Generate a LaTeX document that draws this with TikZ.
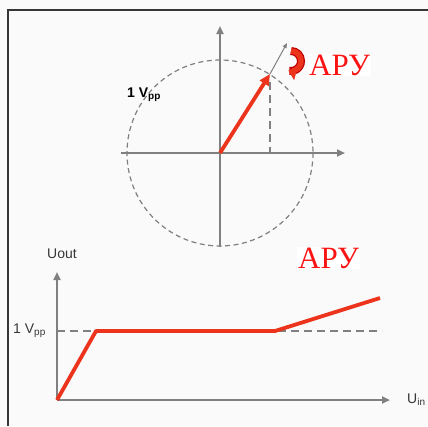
\documentclass[tikz,border=0pt]{standalone}
\usepackage{fontspec}
\setmainfont{Liberation Serif}
\setsansfont{Liberation Sans}
\usetikzlibrary{arrows.meta}
\definecolor{figG}{RGB}{128,128,128}
\definecolor{figR}{RGB}{236,52,28}
\definecolor{figT}{RGB}{250,20,20}
\definecolor{figD}{RGB}{55,55,55}
\newcommand{\lowpp}[1]{\raisebox{-0.4ex}{\fontsize{10}{10}\selectfont #1}}

\begin{document}
\begin{tikzpicture}[x=1pt,y=-1pt,>={Triangle[length=8pt,width=7pt]},
 axis/.style={figG,line width=2.6pt,->},
 guide/.style={figG,line width=1.2pt,dash pattern=on 5pt off 3.5pt},
 longguide/.style={figG,line width=1.1pt,dash pattern=on 8pt off 5pt},
 curve/.style={figR,line width=3.8pt,line join=round},
 lbl/.style={font=\sffamily\fontsize{14}{14}\selectfont,text=figD,inner sep=0pt,anchor=base west},
 agc/.style={font=\fontsize{31}{31}\selectfont,text=figT,inner sep=1pt,anchor=base west,fill=white}]
\useasboundingbox[fill=gray!4] (0,0) rectangle (428,426);
\draw[figD,line width=1.4pt] (428,10)--(8,10)--(8,426);
% phasor with AGC
\coordinate (O) at (220,153);
\coordinate (P) at (270,74); \coordinate (Q) at (287,43);
\coordinate (PB) at (270,153);
\node[agc] (agcA) at (308,75) {АРУ};
\draw[guide] (O) circle (93);
\draw[axis] (220,247) coordinate (YA0)--(220,26) coordinate (YA1);
\draw[axis] (121,153) coordinate (XA0)--(345,153) coordinate (XA1);
\draw[longguide] (270,82) coordinate (PT)--(PB);
\draw[figG,line width=1pt,-{Triangle[length=5pt,width=4pt]}] (P)--(Q);
\draw[curve,-{Triangle[length=11pt,width=10pt]}] (O)--(P);
\draw[red!75!black,line width=8pt] (291,51) arc[start angle=-90,end angle=100,radius=10];
\draw[figR,line width=5.5pt,-{Triangle[length=8pt,width=15pt]}] (291,51) arc[start angle=-90,end angle=105,radius=10];
\node[lbl,text=black,font=\sffamily\bfseries\fontsize{14}{14}\selectfont] (vppA) at (127,97) {1 V\lowpp{pp}};
% transfer curve
\coordinate (O2) at (57,400);
\coordinate (K1) at (96,331); \coordinate (K2) at (275,331); \coordinate (K3) at (380,298);
\draw[longguide] (57,331) coordinate (D1)--(382,331) coordinate (D2);
\draw[axis] (O2)--(57,272) coordinate (Y2);
\draw[axis] (O2)--(390,400) coordinate (X2);
\draw[curve] (O2)--(K1)--(K2)--(K3);
\node[lbl] (uout) at (47,258) {Uout};
\node[lbl] (vppB) at (13,333) {1 V\lowpp{pp}};
\node[lbl] (uin) at (407,403) {U\lowpp{in}};
\node[agc] (agcB) at (297,268) {АРУ};
\end{tikzpicture}
\end{document}
